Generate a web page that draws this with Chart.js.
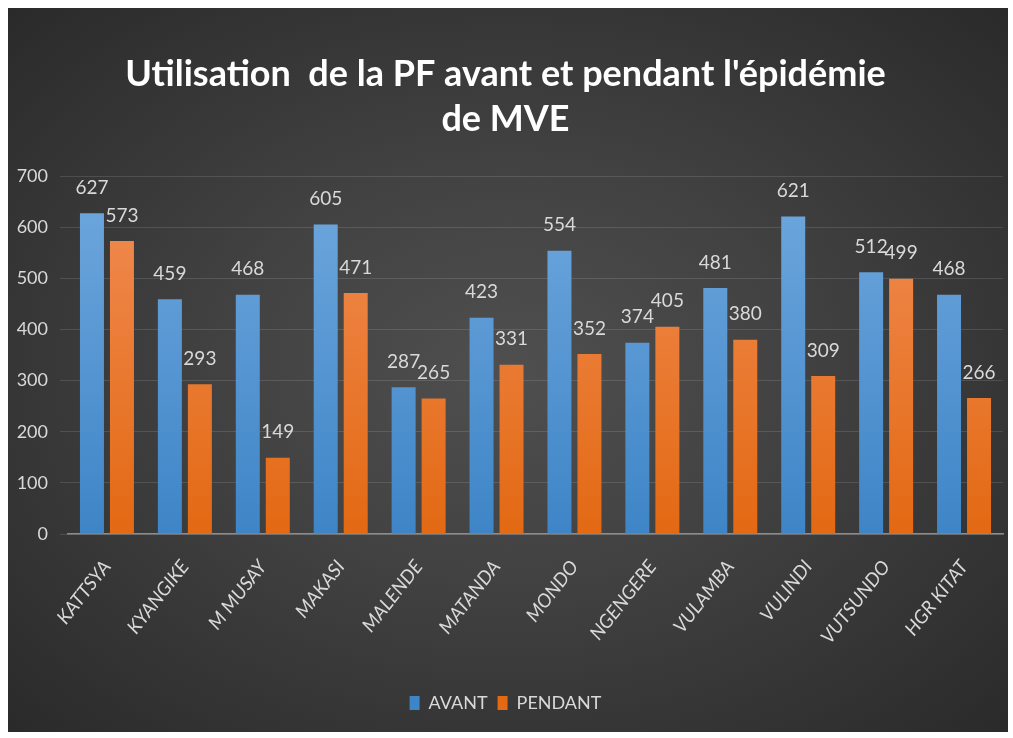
<!DOCTYPE html>
<html>
<head>
<meta charset="utf-8">
<script src="https://cdn.jsdelivr.net/npm/chart.js@4.4.0/dist/chart.umd.min.js"></script>
<style>
  html, body { margin: 0; padding: 0; background: #fff; }
  #frame {
    position: absolute; left: 8px; top: 8px; width: 1000px; height: 724px;
    background: radial-gradient(ellipse at 50% 50%, #4f4f4f 0%, #424242 40%, #2a2a2a 100%);
  }
</style>
</head>
<body>
<div id="frame"><canvas id="chart" width="1000" height="724"></canvas></div>
<script>
const categories = ["KATTSYA", "KYANGIKE", "M MUSAY", "MAKASI", "MALENDE", "MATANDA",
  "MONDO", "NGENGERE", "VULAMBA", "VULINDI", "VUTSUNDO", "HGR KITAT"];
const avant = [627, 459, 468, 605, 287, 423, 554, 374, 481, 621, 512, 468];
const pendant = [573, 293, 149, 471, 265, 331, 352, 405, 380, 309, 499, 266];
const yTicks = [0, 100, 200, 300, 400, 500, 600, 700];

const FONT = "Lato, sans-serif";

function barGradient(top, bottom) {
  return (context) => {
    const { ctx, chartArea } = context.chart;
    if (!chartArea) return bottom;
    const g = ctx.createLinearGradient(0, chartArea.top, 0, chartArea.bottom);
    g.addColorStop(0, top);
    g.addColorStop(1, bottom);
    return g;
  };
}

// numbers above each bar
const valueLabels = {
  id: "valueLabels",
  afterDatasetsDraw(chart) {
    const ctx = chart.ctx;
    ctx.save();
    ctx.font = "19px " + FONT;
    ctx.fillStyle = "#d9d9d9";
    ctx.textAlign = "center";
    ctx.textBaseline = "bottom";
    chart.data.datasets.forEach((ds, i) => {
      chart.getDatasetMeta(i).data.forEach((bar, j) => {
        ctx.fillText(ds.data[j], bar.x, bar.y - 16);
      });
    });
    ctx.restore();
  }
};

new Chart(document.getElementById("chart"), {
  type: "bar",
  data: {
    labels: categories,
    datasets: [
      {
        label: "AVANT",
        data: avant,
        backgroundColor: barGradient("#70a8de", "#3e85c7"),
      },
      {
        label: "PENDANT",
        data: pendant,
        backgroundColor: barGradient("#f18d55", "#e36913"),
      },
    ],
  },
  plugins: [valueLabels],
  options: {
    responsive: false,
    animation: false,
    categoryPercentage: 0.77,
    barPercentage: 0.8,
    layout: { padding: { left: 0, right: 5, bottom: 10 } },
    plugins: {
      title: {
        display: true,
        text: ["Utilisation  de la PF avant et pendant l'épidémie", "de MVE"],
        color: "#ffffff",
        font: { family: FONT, size: 36, weight: "bold", lineHeight: 1.25 },
        padding: { top: 44, bottom: 34 },
      },
      legend: {
        position: "bottom",
        labels: {
          color: "#d9d9d9",
          font: { family: FONT, size: 18 },
          boxWidth: 10,
          boxHeight: 14,
          padding: 10,
        },
      },
      tooltip: { enabled: false },
    },
    scales: {
      x: {
        grid: { display: false },
        border: { color: "#8c8c8c", width: 1.5 },
        ticks: {
          color: "#d9d9d9",
          font: { family: FONT, size: 19, style: "italic" },
          maxRotation: 52,
          minRotation: 52,
          padding: 14,
        },
        afterFit: (s) => { s.height = 150; },
      },
      y: {
        min: 0,
        max: 700,
        grid: { color: "rgba(255,255,255,0.12)" },
        border: { display: false },
        afterBuildTicks: (s) => { s.ticks = yTicks.map((v) => ({ value: v })); },
        ticks: {
          color: "#d9d9d9",
          font: { family: FONT, size: 18 },
          padding: 12,
        },
        afterFit: (s) => { s.width = 60; },
      },
    },
  },
});
</script>
</body>
</html>
